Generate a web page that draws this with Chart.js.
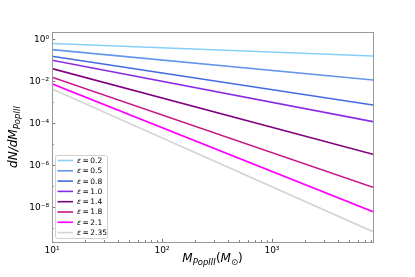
<!DOCTYPE html>
<html>
<head>
<meta charset="utf-8">
<script src="https://cdn.jsdelivr.net/npm/chart.js@4.4.1/dist/chart.umd.min.js"></script>
<style>
  html, body { margin: 0; padding: 0; background: #fff; }
</style>
</head>
<body>
<canvas id="chart" width="415" height="277"></canvas>
<script>
// slope of each mass function line
const epsilons = ['0.2', '0.5', '0.8', '1.0', '1.4', '1.8', '2.1', '2.35'];
// M_PopIII at the two ends of every line
const massEnds = [10, 8300];
// dN/dM read at M = 10 and at the right edge
const valuesAtLow  = [0.62, 0.32, 0.155, 0.10, 0.040, 0.0155, 0.0075, 0.0043];
const valuesAtHigh = [0.158, 0.0114, 7.4e-4, 1.18e-4, 3.3e-6, 8.9e-8, 6.1e-9, 6.8e-10];
const lineColors = ['#87cefa', '#6495ed', '#4169e1', '#8a2be2', '#800080', '#c71585', '#ff00ff', '#d3d3d3'];
// tick labels
const xTicks = [10, 100, 1000];
const yTicks = [1, 1e-2, 1e-4, 1e-6, 1e-8];
const xLimits = [10, 8300];
const yLimits = [2.2e-10, 2.2];

const FONT = 'DejaVu Sans';
const SUP = { '0': '⁰', '1': '¹', '2': '²', '3': '³', '4': '⁴', '5': '⁵', '6': '⁶', '7': '⁷', '8': '⁸', '9': '⁹', '-': '⁻' };
const powLabel = v => '10' + String(Math.round(Math.log10(v))).split('').map(c => SUP[c]).join('');

const datasets = epsilons.map((eps, i) => ({
  label: 'ε = ' + eps,
  data: [{ x: massEnds[0], y: valuesAtLow[i] }, { x: massEnds[1], y: valuesAtHigh[i] }],
  borderColor: lineColors[i],
  backgroundColor: lineColors[i],
  borderWidth: 1.6,
  pointRadius: 0,
  fill: false,
  tension: 0
}));

// frame, inward ticks, axis titles and the legend box, matplotlib style
const decorations = {
  id: 'decorations',
  afterDraw(chart) {
    const ctx = chart.ctx;
    const a = chart.chartArea;
    const xs = chart.scales.x, ys = chart.scales.y;
    ctx.save();

    // ticks (inward)
    ctx.strokeStyle = '#555';
    ctx.lineWidth = 0.8;
    const tickX = (v, len) => {
      const px = Math.round(xs.getPixelForValue(v)) + 0.5;
      ctx.beginPath(); ctx.moveTo(px, a.bottom); ctx.lineTo(px, a.bottom - len); ctx.stroke();
    };
    const tickY = (v, len) => {
      const py = Math.round(ys.getPixelForValue(v)) + 0.5;
      ctx.beginPath(); ctx.moveTo(a.left, py); ctx.lineTo(a.left + len, py); ctx.stroke();
    };
    xTicks.forEach(v => tickX(v, 3.2));
    xTicks.forEach(d => { for (let m = 2; m <= 9; m++) if (m * d <= xLimits[1]) tickX(m * d, 1.8); });
    yTicks.forEach(v => tickY(v, 3.2));
    yTicks.forEach(v => { if (v / 10 > yLimits[0]) tickY(v / 10, 1.8); });

    // frame
    ctx.strokeStyle = '#999';
    ctx.lineWidth = 1;
    ctx.strokeRect(Math.round(a.left) + 0.5, Math.round(a.top) + 0.5,
      Math.round(a.right - a.left), Math.round(a.bottom - a.top));

    // x title: M_PopIII(M_sun)
    const parts = [
      ['M', 'italic 12px', 0], ['PopIII', 'italic 8.5px', 2.5], ['(', '12px', 0],
      ['M', 'italic 12px', 0], ['⊙', '8.5px', 2.5], [')', '12px', 0]
    ];
    const widthOf = p => { ctx.font = p[1] + ' "' + FONT + '"'; return ctx.measureText(p[0]).width; };
    let total = parts.reduce((s, p) => s + widthOf(p), 0);
    let x = (a.left + a.right) / 2 - total / 2;
    ctx.fillStyle = '#000';
    ctx.textBaseline = 'alphabetic';
    ctx.textAlign = 'left';
    parts.forEach(p => { const w = widthOf(p); ctx.fillText(p[0], x, 262 + p[2]); x += w; });

    // y title: dN/dM_PopIII, rotated
    const yparts = [['dN/dM', 'italic 12px', 0], ['PopIII', 'italic 8.5px', 2.5]];
    total = yparts.reduce((s, p) => s + widthOf(p), 0);
    ctx.save();
    ctx.translate(17, (a.top + a.bottom) / 2);
    ctx.rotate(-Math.PI / 2);
    x = -total / 2;
    yparts.forEach(p => { const w = widthOf(p); ctx.fillText(p[0], x, p[2]); x += w; });
    ctx.restore();

    // legend
    const lx = 55.5, ly = 155.5, lw = 52, lh = 83, r = 2;
    ctx.beginPath();
    ctx.moveTo(lx + r, ly);
    ctx.arcTo(lx + lw, ly, lx + lw, ly + lh, r);
    ctx.arcTo(lx + lw, ly + lh, lx, ly + lh, r);
    ctx.arcTo(lx, ly + lh, lx, ly, r);
    ctx.arcTo(lx, ly, lx + lw, ly, r);
    ctx.closePath();
    ctx.fillStyle = 'rgba(255,255,255,0.8)';
    ctx.fill();
    ctx.strokeStyle = '#d0d0d0';
    ctx.lineWidth = 1;
    ctx.stroke();
    chart.data.datasets.forEach((ds, i) => {
      const ry = 160.5 + i * 10.3;
      ctx.strokeStyle = ds.borderColor;
      ctx.lineWidth = 1.6;
      ctx.beginPath(); ctx.moveTo(57.5, ry); ctx.lineTo(73, ry); ctx.stroke();
      ctx.fillStyle = '#000';
      ctx.textBaseline = 'middle';
      ctx.font = 'italic 7.5px "' + FONT + '"';
      ctx.fillText('ε', 77, ry + 0.5);
      let tx = 77 + ctx.measureText('ε').width + 1.5;
      ctx.font = '7.5px "' + FONT + '"';
      ctx.fillText('=', tx, ry + 0.5);
      tx += ctx.measureText('=').width + 1.5;
      ctx.fillText(epsilons[i], tx, ry + 0.5);
    });

    ctx.restore();
  }
};

new Chart(document.getElementById('chart'), {
  type: 'line',
  data: { datasets },
  options: {
    responsive: false,
    animation: false,
    layout: { padding: { left: 0, right: 42, top: 32, bottom: 0 } },
    plugins: { legend: { display: false }, tooltip: { enabled: false } },
    scales: {
      x: {
        type: 'logarithmic',
        min: xLimits[0],
        max: xLimits[1],
        grid: { display: false, drawTicks: false },
        border: { display: false },
        ticks: {
          autoSkip: false, maxRotation: 0, padding: 3, color: '#000',
          font: { family: FONT, size: 9 },
          callback: v => powLabel(v)
        },
        afterBuildTicks: s => { s.ticks = xTicks.map(v => ({ value: v })); },
        afterFit: s => { s.height = 35; }
      },
      y: {
        type: 'logarithmic',
        min: yLimits[0],
        max: yLimits[1],
        grid: { display: false, drawTicks: false },
        border: { display: false },
        ticks: {
          autoSkip: false, padding: 3, color: '#000',
          font: { family: FONT, size: 9 },
          callback: v => powLabel(v)
        },
        afterBuildTicks: s => { s.ticks = yTicks.map(v => ({ value: v })); },
        afterFit: s => { s.width = 52; }
      }
    }
  },
  plugins: [decorations]
});
</script>
</body>
</html>
